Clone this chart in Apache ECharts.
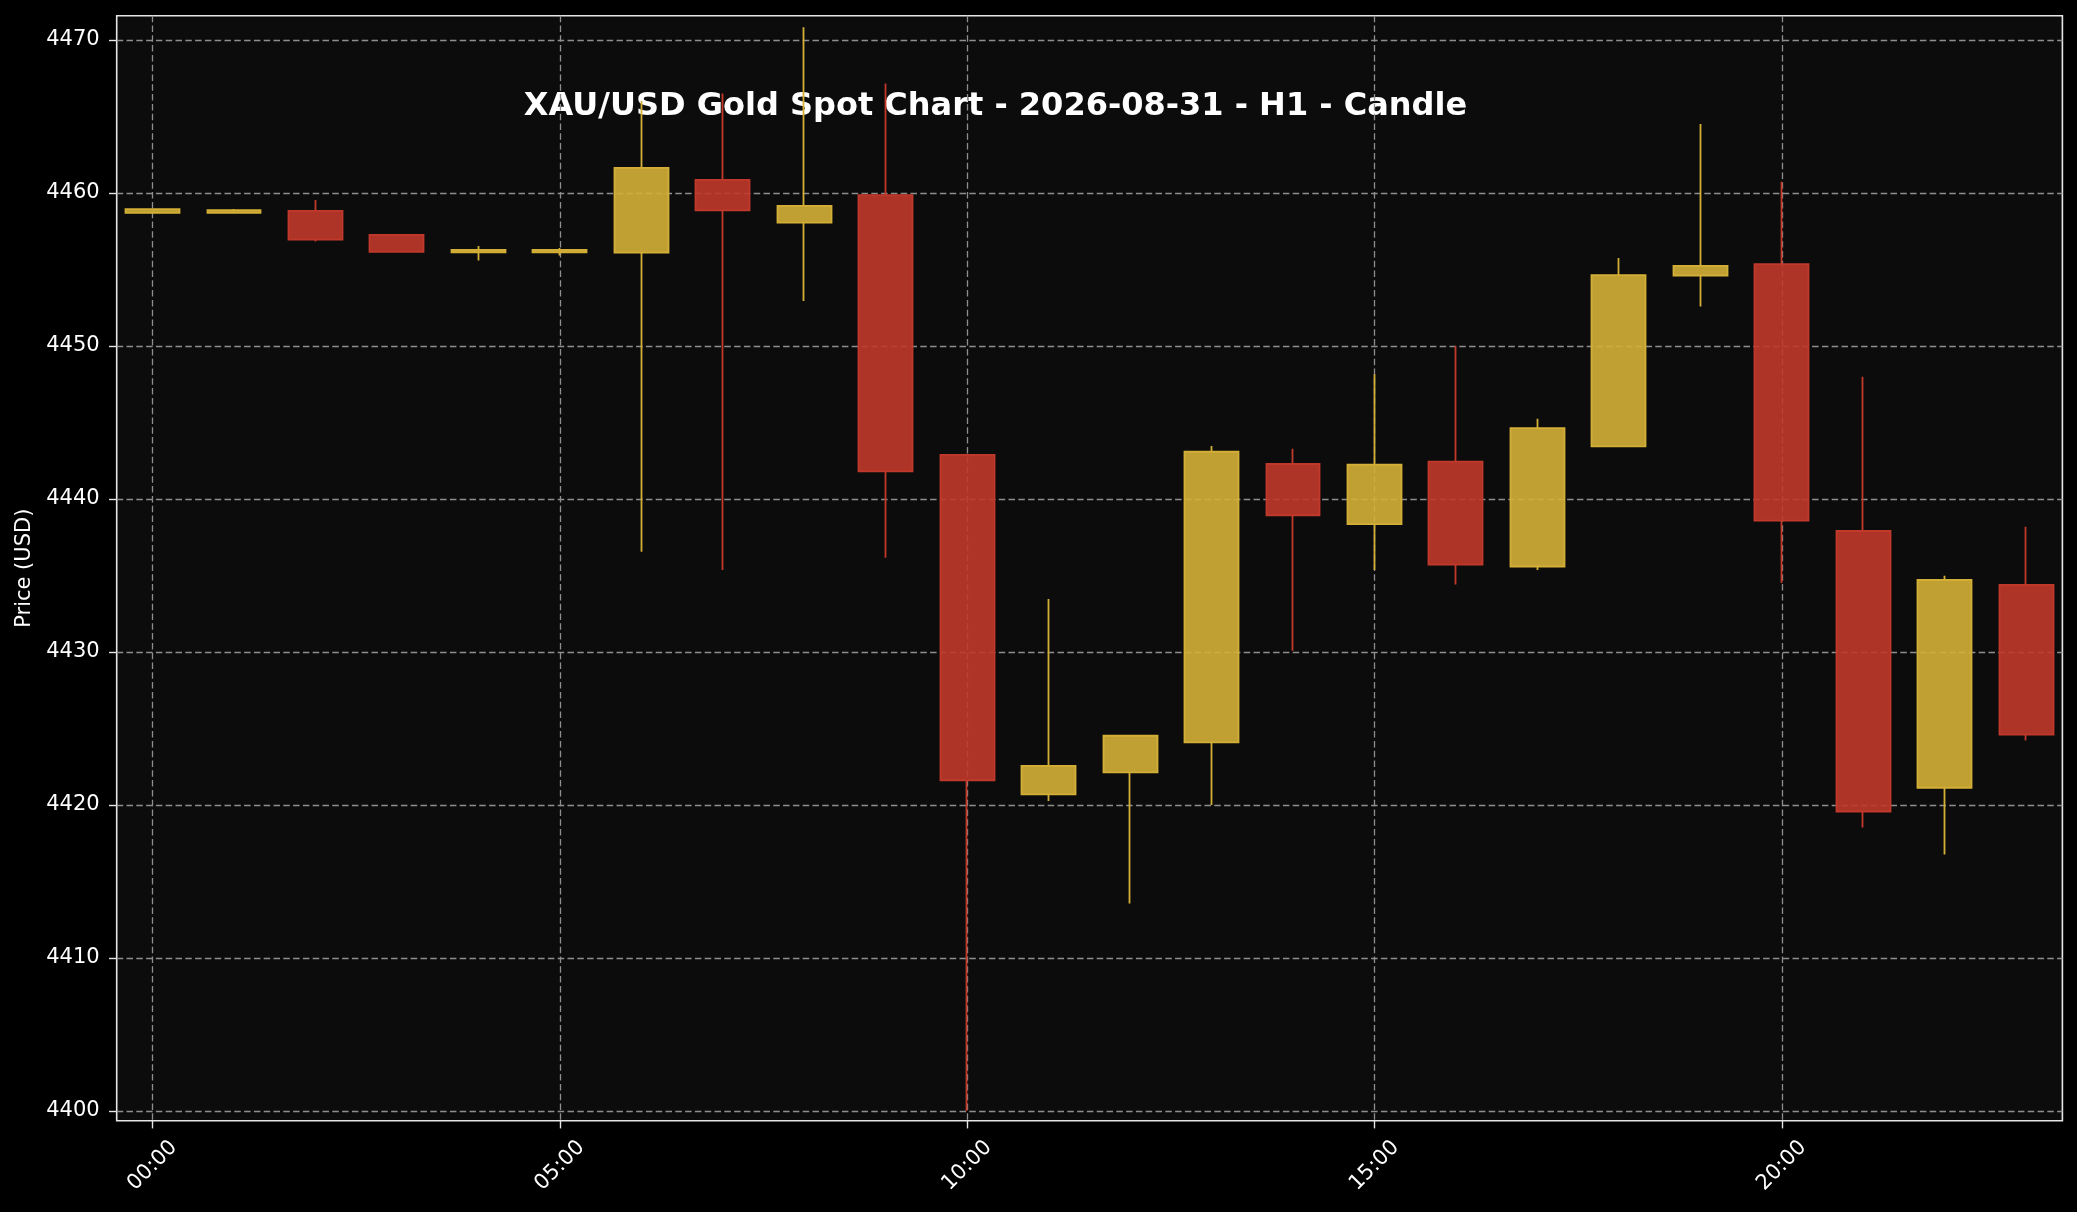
<!DOCTYPE html>
<html>
<head>
<meta charset="utf-8">
<script src="https://cdn.jsdelivr.net/npm/echarts@6/dist/echarts.min.js"></script>
<style>
html,body{margin:0;padding:0;background:#000;}
#c{width:2077px;height:1212px;}
</style>
</head>
<body>
<div id="c"></div>
<script>
// ---- data ----
const hours  = [0,1,2,3,4,5,6,7,8,9,10,11,12,13,14,15,16,17,18,19,20,21,22,23];
const openP  = [4458.70,4458.70,4458.83,4457.25,4456.12,4456.12,4456.10,4460.85,4458.05,4459.85,4442.88,4420.69,4422.12,4424.08,4442.28,4438.35,4442.43,4435.58,4443.43,4454.60,4455.35,4437.90,4421.12,4434.38];
const closeP = [4458.94,4458.87,4456.95,4456.15,4456.28,4456.28,4461.63,4458.85,4459.15,4441.80,4421.61,4422.55,4424.52,4443.08,4438.93,4442.23,4435.70,4444.63,4454.63,4455.23,4438.58,4419.57,4434.70,4424.59];
const lowP   = [4458.70,4458.70,4456.83,4456.10,4455.58,4455.90,4436.55,4435.35,4452.93,4436.15,4400.00,4420.26,4413.55,4420.00,4430.08,4435.35,4434.40,4435.35,4443.43,4452.58,4434.50,4418.52,4416.76,4424.21];
const highP  = [4458.94,4458.94,4459.53,4457.25,4456.53,4456.40,4466.00,4466.50,4470.83,4467.15,4442.95,4433.45,4424.57,4443.45,4443.28,4448.15,4450.00,4445.23,4455.75,4464.50,4460.73,4447.98,4434.98,4438.18];
const xTickHours = [0,5,10,15,20];
const yTickValues = [4400,4410,4420,4430,4440,4450,4460,4470];
const titleText = 'XAU/USD Gold Spot Chart - 2026-08-31 - H1 - Candle';
const yAxisName = 'Price (USD)';

// ---- layout ----
const L = 116.7, R = 2062.4, T = 15.7, B = 1120.7;
const XMIN = -0.44, XMAX = 23.445, YMIN = 4399.36, YMAX = 4471.58;
const pxX = (R - L) / (XMAX - XMIN), pxY = (B - T) / (YMAX - YMIN);
const px = v => L + (v - XMIN) * pxX;
const py = v => T + (YMAX - v) * pxY;
const xt0 = xTickHours[0], xt1 = xTickHours[xTickHours.length - 1];
const yt0 = yTickValues[0], yt1 = yTickValues[yTickValues.length - 1];

const FONT = 'DejaVu Sans';
const frameColor = '#e6e6e6';
const gridLine = { show: true, lineStyle: { color: '#8e8e8e', width: 1.3, type: [6.5, 3.3] } };
const tick = { show: true, inside: false, length: 7.7, lineStyle: { color: frameColor, width: 1.4 } };

const candleData = hours.map((h, i) => [h, openP[i], closeP[i], lowP[i], highP[i]]);

const chart = echarts.init(document.getElementById('c'), null, { renderer: 'canvas', width: 2077, height: 1212 });
chart.setOption({
  animation: false,
  backgroundColor: '#000000',
  grid: [
    { left: L, top: T, width: R - L, height: B - T, show: true, backgroundColor: '#0c0c0c',
      borderColor: frameColor, borderWidth: 1.6, z: -1 },
    { left: px(xt0), top: T, width: px(xt1) - px(xt0), height: B - T },
    { left: L, top: py(yt1), width: R - L, height: py(yt0) - py(yt1) }
  ],
  xAxis: [
    { gridIndex: 0, type: 'value', min: XMIN, max: XMAX, show: false, splitLine: { show: false } },
    { gridIndex: 1, type: 'value', min: xt0, max: xt1, interval: 5,
      axisLine: { show: false }, axisTick: tick, splitLine: gridLine,
      axisLabel: { show: true, rotate: 45, align: 'center', verticalAlign: 'middle', margin: 45,
        color: '#ffffff', fontFamily: FONT, fontSize: 21,
        formatter: v => String(v).padStart(2, '0') + ':00' } },
    { gridIndex: 2, type: 'value', min: 0, max: 1, show: false, splitLine: { show: false } }
  ],
  yAxis: [
    { gridIndex: 0, type: 'value', min: YMIN, max: YMAX, show: false, splitLine: { show: false } },
    { gridIndex: 1, type: 'value', min: 0, max: 1, show: false, splitLine: { show: false } },
    { gridIndex: 2, type: 'value', min: yt0, max: yt1, interval: 10,
      axisLine: { show: false }, axisTick: tick, splitLine: gridLine,
      axisLabel: { show: true, margin: 17, color: '#ffffff', fontFamily: FONT, fontSize: 21,
        formatter: v => String(v) } }
  ],
  graphic: [
    { type: 'text', x: 995.5, y: 106.5, silent: true,
      style: { text: titleText, fill: '#ffffff', font: 'bold 32px "DejaVu Sans"', align: 'center', verticalAlign: 'middle' } },
    { type: 'text', x: 25, y: (T + B) / 2, rotation: Math.PI / 2, silent: true,
      style: { text: yAxisName, fill: '#ffffff', font: '21px "DejaVu Sans"', align: 'center', verticalAlign: 'middle' } }
  ],
  series: [{
    type: 'candlestick',
    xAxisIndex: 0, yAxisIndex: 0,
    encode: { x: 0, y: [1, 2, 3, 4] },
    data: candleData,
    barWidth: 0.668 * pxX,
    itemStyle: {
      color: 'rgba(212,175,55,0.9)', color0: 'rgba(192,57,43,0.9)',
      borderColor: '#d4af37', borderColor0: '#c0392b', borderWidth: 1.8
    },
    emphasis: { disabled: true },
    z: 2
  }]
});
</script>
</body>
</html>
